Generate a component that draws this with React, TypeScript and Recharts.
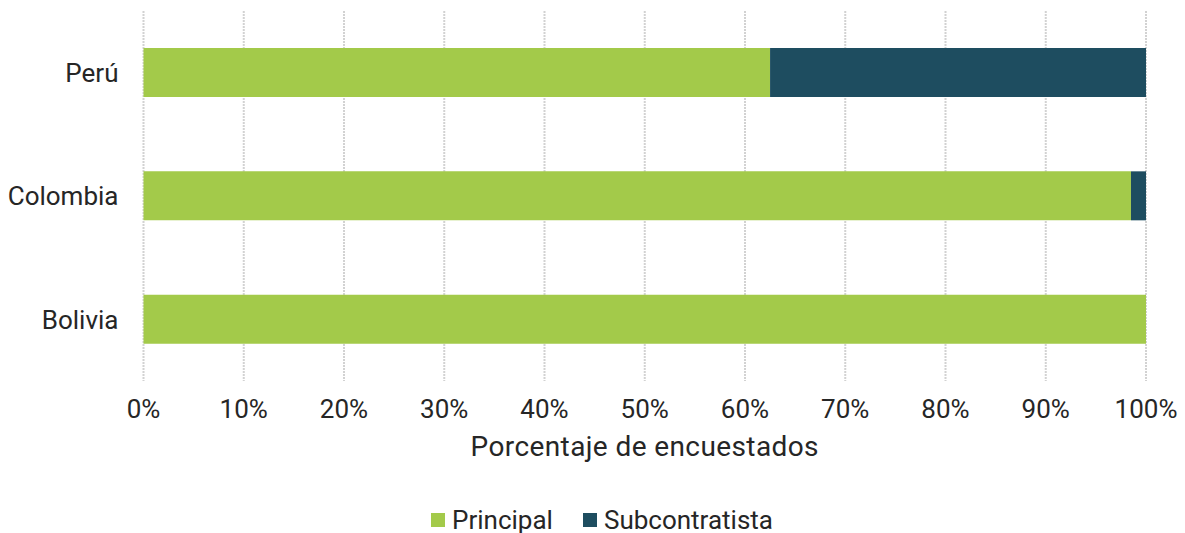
import React from "react";
import {
  BarChart,
  Bar,
  XAxis,
  YAxis,
  CartesianGrid,
  Legend,
} from "recharts";

const countries = ["Perú", "Colombia", "Bolivia"];
const principal = [62.5, 98.5, 100];
const subcontratista = [37.5, 1.5, 0];
const xTicks = [0, 10, 20, 30, 40, 50, 60, 70, 80, 90, 100];

const data = countries.map((country, i) => ({
  country,
  principal: principal[i],
  subcontratista: subcontratista[i],
}));

const GREEN = "#a3ca4a";
const NAVY = "#1e4d60";
const TEXT = "#262626";
const FONT = "Roboto, 'Noto Sans', sans-serif";

const TICK_STYLE = { fontSize: 26, fill: TEXT, fontFamily: FONT };

const LABELS: Record<string, string> = {
  principal: "Principal",
  subcontratista: "Subcontratista",
};

function LegendContent({ payload }: { payload?: Array<{ value: string; color: string }> }) {
  return (
    <div
      style={{
        display: "flex",
        justifyContent: "center",
        alignItems: "center",
        height: 40,
        paddingTop: 14,
        boxSizing: "border-box",
        fontFamily: FONT,
        fontSize: 26,
        color: TEXT,
        paddingLeft: 58,
      }}
    >
      {(payload ?? []).map((p, i) => (
        <div key={p.value} style={{ display: "flex", alignItems: "center", marginLeft: i ? 30 : 0 }}>
          <span style={{ width: 14, height: 14, background: p.color, marginRight: 7, display: "inline-block" }} />
          <span>{LABELS[p.value] ?? p.value}</span>
        </div>
      ))}
    </div>
  );
}

export default function App() {
  return (
    <div style={{ position: "absolute", left: 0, top: 0, background: "#fff" }}>
      <BarChart
        width={1185}
        height={533}
        data={data}
        layout="vertical"
        margin={{ top: 11, right: 39, left: 0, bottom: 0 }}
        barSize={49}
      >
        <CartesianGrid
          horizontal={false}
          stroke="#d2d2d2"
          strokeWidth={2}
          strokeDasharray="2 1"
        />
        <XAxis
          type="number"
          domain={[0, 100]}
          ticks={xTicks}
          tickFormatter={(v: number) => `${v}%`}
          axisLine={false}
          tickLine={false}
          tickMargin={13}
          tick={TICK_STYLE}
          height={112}
          label={{
            value: "Porcentaje de encuestados",
            position: "insideBottom",
            offset: 37,
            style: { fontSize: 28, fill: TEXT, fontFamily: FONT, letterSpacing: 0.4 },
          }}
        />
        <YAxis
          type="category"
          dataKey="country"
          width={143.5}
          axisLine={false}
          tickLine={false}
          tickMargin={19}
          tick={TICK_STYLE}
        />
        <Legend
          verticalAlign="bottom"
          content={<LegendContent />}
          wrapperStyle={{ height: 40 }}
        />
        <Bar dataKey="principal" stackId="a" fill={GREEN} isAnimationActive={false} />
        <Bar dataKey="subcontratista" stackId="a" fill={NAVY} isAnimationActive={false} />
      </BarChart>
    </div>
  );
}
